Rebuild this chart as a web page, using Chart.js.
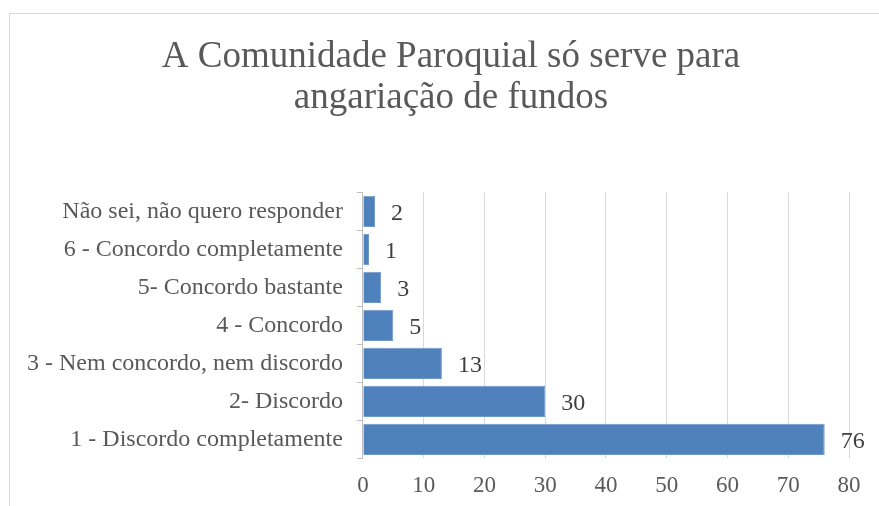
<!DOCTYPE html>
<html>
<head>
<meta charset="utf-8">
<script src="https://cdn.jsdelivr.net/npm/chart.js@4"></script>
<style>
  body { margin: 0; background: #fff; }
  #frame { position: absolute; left: 9px; top: 13px; width: 900px; height: 520px; border: 1px solid #d9d9d9; }
  #wrap { position: absolute; left: 0; top: 0; width: 879px; height: 506px; }
</style>
</head>
<body>
<div id="frame"></div>
<div id="wrap"><canvas id="c" width="879" height="506"></canvas></div>
<script>
var categories = [
  "Não sei, não quero responder",
  "6 - Concordo completamente",
  "5- Concordo bastante",
  "4 - Concordo",
  "3 - Nem concordo, nem discordo",
  "2- Discordo",
  "1 - Discordo completamente"
];
var values = [2, 1, 3, 5, 13, 30, 76];
var xTicks = [0, 10, 20, 30, 40, 50, 60, 70, 80];

var serif = "'Liberation Serif', 'Times New Roman', serif";

// value labels to the right of each bar
var barLabels = {
  id: "barLabels",
  afterLayout: function (chart) {
    // title in the original is centred on the outer frame, a bit right of the canvas middle
    if (chart.titleBlock) {
      chart.titleBlock.left += 20;
      chart.titleBlock.right += 20;
    }
  },
  afterDatasetsDraw: function (chart) {
    var ctx = chart.ctx;
    var meta = chart.getDatasetMeta(0);
    ctx.save();
    ctx.font = "24px " + serif;
    ctx.fillStyle = "#404040";
    ctx.textAlign = "left";
    ctx.textBaseline = "alphabetic";
    meta.data.forEach(function (bar, i) {
      ctx.fillText(values[i], bar.x + 16, bar.y + 9);
    });
    ctx.restore();
  }
};

var ctx = document.getElementById("c").getContext("2d");
var chart = new Chart(ctx, {
  type: "bar",
  data: {
    labels: categories,
    datasets: [
      {
        data: values,
        backgroundColor: "#4f81bd",
        borderColor: "#6f98ca",
        borderWidth: 1,
        barPercentage: 0.82,
        categoryPercentage: 1.0
      }
    ]
  },
  options: {
    indexAxis: "y",
    responsive: false,
    animation: false,
    layout: { padding: { left: 13, right: 30, top: 0, bottom: -8 } },
    plugins: {
      legend: { display: false },
      tooltip: { enabled: false },
      title: {
        display: true,
        text: ["A Comunidade Paroquial só serve para", "angariação de fundos"],
        font: { family: serif, size: 37, weight: "normal", lineHeight: 1.1 },
        color: "#595959",
        padding: { top: 37, bottom: 74 }
      }
    },
    scales: {
      x: {
        min: 0,
        max: 80,
        afterBuildTicks: function (axis) {
          axis.ticks = xTicks.map(function (v) { return { value: v }; });
        },
        grid: { color: "#d9d9d9", drawTicks: false },
        border: { display: false },
        ticks: {
          font: { family: serif, size: 23 },
          color: "#595959",
          padding: 14
        }
      },
      y: {
        grid: { drawOnChartArea: false, drawTicks: true, tickLength: 6, color: "#bfbfbf", offset: true },
        border: { display: true, color: "#bfbfbf" },
        ticks: {
          font: { family: serif, size: 24 },
          color: "#595959",
          padding: 14
        }
      }
    }
  },
  plugins: [barLabels]
});
</script>
</body>
</html>
